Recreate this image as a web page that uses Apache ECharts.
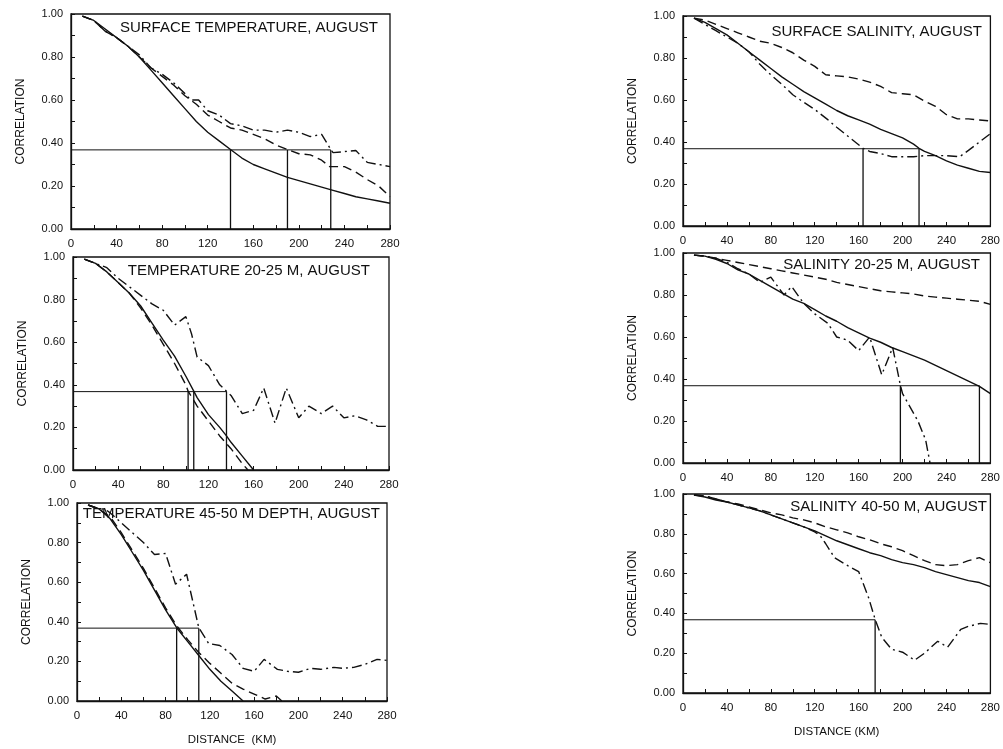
<!DOCTYPE html>
<html>
<head>
<meta charset="utf-8">
<script src="https://cdn.jsdelivr.net/npm/echarts@6/dist/echarts.min.js"></script>
<style>
  html, body { margin: 0; padding: 0; background: #fff; }
  #main { width: 1003px; height: 749px; }
</style>
</head>
<body>
<div id="main"></div>
<script>
// e-folding level used for the reference lines
var EFOLD = 0.368;

// panel titles
var titles = [
    'SURFACE TEMPERATURE, AUGUST',
    'TEMPERATURE 20-25 M, AUGUST',
    'TEMPERATURE 45-50 M DEPTH, AUGUST',
    'SURFACE SALINITY, AUGUST',
    'SALINITY 20-25 M, AUGUST',
    'SALINITY 40-50 M, AUGUST'
];

var xTicks = [0, 40, 80, 120, 160, 200, 240, 280];
var yTicks = [0, 0.2, 0.4, 0.6, 0.8, 1.0];

// [distance km, correlation]
var tempSurfSolid = [[10,.99],[20,.97],[30,.93],[40,.89],[50,.85],[60,.80],[70,.74],[80,.68],[90,.62],[100,.56],[110,.50],[120,.45],[130,.41],[140,.37],[150,.33],[160,.30],[170,.28],[180,.26],[190,.24],[200,.225],[210,.21],[220,.195],[230,.18],[240,.165],[250,.15],[260,.14],[270,.13],[280,.12]];
var tempSurfDash = [[10,.99],[20,.97],[30,.92],[40,.89],[50,.85],[60,.80],[70,.75],[80,.71],[90,.67],[100,.62],[110,.58],[120,.53],[130,.50],[140,.47],[150,.46],[160,.44],[170,.42],[180,.39],[190,.37],[200,.35],[210,.345],[220,.32],[227,.29],[240,.29],[250,.265],[260,.23],[270,.20],[280,.15]];
var tempSurfDashDot = [[10,.99],[20,.97],[30,.92],[40,.89],[50,.85],[60,.81],[70,.75],[80,.72],[90,.68],[100,.63],[105,.60],[112,.60],[120,.55],[130,.53],[140,.49],[150,.48],[160,.46],[170,.46],[180,.45],[190,.46],[200,.45],[210,.43],[220,.44],[228,.37],[230,.355],[240,.36],[250,.365],[260,.31],[270,.30],[280,.29]];
var tempSurfCross = [140, 190, 228];

var temp25Solid = [[10,.99],[20,.97],[30,.93],[40,.88],[50,.83],[60,.77],[70,.69],[80,.61],[90,.535],[100,.44],[107,.37],[110,.34],[120,.26],[130,.20],[136,.16],[140,.13],[150,.065],[160,0]];
var temp25Dash = [[10,.99],[20,.97],[30,.93],[40,.88],[50,.83],[60,.76],[70,.68],[80,.59],[90,.50],[100,.40],[102,.37],[110,.30],[120,.23],[130,.16],[140,.10],[150,.03],[155,0]];
var temp25DashDot = [[10,.99],[20,.97],[30,.95],[40,.90],[50,.86],[60,.82],[70,.78],[80,.75],[90,.68],[100,.72],[105,.64],[110,.53],[120,.49],[130,.40],[136,.37],[140,.35],[150,.265],[160,.28],[169,.385],[179,.22],[189,.385],[200,.245],[209,.30],[220,.265],[230,.30],[240,.245],[250,.255],[260,.235],[270,.205],[280,.205]];
var temp25Cross = [102, 107, 136];

var temp50Solid = [[10,.99],[20,.97],[30,.92],[40,.84],[50,.75],[60,.66],[70,.56],[80,.46],[90,.37],[100,.30],[110,.23],[120,.16],[130,.10],[140,.05],[150,0]];
var temp50Dash = [[10,.99],[20,.97],[30,.93],[40,.85],[50,.76],[60,.67],[70,.57],[80,.47],[90,.38],[100,.31],[110,.245],[120,.19],[130,.14],[140,.09],[150,.06],[160,.035],[170,.01],[180,.025],[185,0]];
var temp50DashDot = [[10,.99],[20,.97],[25,.97],[30,.95],[40,.90],[50,.85],[60,.80],[70,.74],[80,.745],[89,.59],[99,.64],[110,.37],[119,.29],[129,.28],[140,.235],[150,.165],[160,.15],[169,.21],[181,.16],[190,.15],[200,.145],[211,.165],[220,.16],[232,.17],[240,.165],[250,.17],[260,.185],[271,.21],[280,.205]];
var temp50Cross = [90, 110];

var salSurfSolid = [[10,.99],[20,.97],[30,.94],[40,.91],[50,.87],[60,.83],[70,.79],[80,.75],[90,.71],[100,.675],[110,.64],[120,.61],[130,.58],[140,.55],[150,.525],[160,.505],[170,.485],[180,.46],[190,.44],[200,.42],[210,.39],[215,.37],[220,.355],[230,.335],[240,.31],[250,.29],[260,.275],[270,.26],[280,.255]];
var salSurfDash = [[10,.99],[20,.98],[30,.96],[40,.94],[50,.92],[60,.90],[70,.88],[80,.87],[90,.85],[100,.825],[110,.79],[120,.76],[130,.72],[140,.715],[150,.71],[160,.70],[170,.685],[180,.665],[190,.635],[200,.63],[210,.625],[220,.595],[230,.57],[240,.53],[250,.51],[260,.51],[270,.505],[280,.50]];
var salSurfDashDot = [[10,.99],[20,.96],[30,.93],[40,.90],[50,.87],[60,.83],[70,.77],[80,.72],[90,.675],[100,.625],[107,.60],[120,.555],[131,.51],[140,.47],[152,.42],[164,.37],[170,.355],[180,.345],[190,.33],[200,.33],[210,.33],[220,.335],[230,.335],[240,.335],[252,.33],[260,.36],[270,.40],[280,.44]];
var salSurfCross = [164, 215];

var sal25Solid = [[10,.99],[20,.985],[30,.97],[40,.95],[50,.92],[60,.90],[70,.87],[80,.84],[90,.81],[100,.78],[110,.76],[120,.73],[130,.70],[140,.675],[150,.645],[160,.62],[170,.595],[180,.575],[190,.55],[200,.53],[210,.51],[220,.49],[230,.465],[240,.44],[250,.415],[260,.39],[270,.365],[280,.33]];
var sal25Dash = [[10,.99],[20,.985],[30,.975],[40,.965],[50,.955],[60,.945],[70,.935],[80,.925],[90,.915],[100,.905],[110,.895],[120,.885],[130,.875],[140,.86],[150,.85],[160,.84],[170,.83],[180,.82],[190,.815],[200,.81],[210,.805],[220,.795],[230,.79],[240,.785],[250,.78],[260,.775],[270,.77],[280,.755]];
var sal25DashDot = [[10,.99],[20,.985],[30,.975],[40,.955],[50,.925],[60,.90],[70,.86],[80,.885],[92,.80],[99,.84],[110,.76],[120,.71],[132,.665],[140,.60],[150,.585],[160,.535],[170,.60],[181,.42],[191,.55],[198,.37],[200,.33],[214,.20],[221,.11],[225,0]];
var sal25Cross = [198, 270];

var sal50Solid = [[10,.995],[20,.985],[30,.97],[40,.96],[50,.945],[60,.93],[70,.915],[80,.895],[90,.875],[100,.855],[110,.835],[120,.815],[130,.79],[140,.765],[150,.745],[160,.725],[170,.705],[180,.69],[190,.67],[200,.655],[210,.645],[220,.63],[230,.61],[240,.595],[250,.58],[260,.565],[270,.555],[280,.535]];
var sal50Dash = [[10,.995],[20,.99],[30,.975],[40,.96],[50,.95],[60,.935],[70,.92],[80,.905],[90,.895],[100,.88],[110,.87],[120,.855],[130,.835],[140,.82],[150,.805],[160,.785],[170,.77],[180,.75],[190,.735],[200,.715],[210,.69],[220,.665],[230,.645],[240,.64],[250,.645],[260,.665],[270,.68],[280,.655]];
var sal50DashDot = [[10,.995],[20,.99],[30,.975],[40,.96],[50,.945],[60,.93],[70,.915],[80,.895],[90,.875],[100,.855],[110,.835],[120,.81],[125,.79],[130,.75],[138,.68],[150,.64],[160,.61],[169,.48],[175,.37],[181,.28],[190,.22],[200,.205],[211,.165],[220,.20],[232,.26],[241,.23],[253,.32],[260,.335],[271,.35],[280,.345]];
var sal50Cross = [175];

var panelSeries = [
    [tempSurfSolid, tempSurfDash, tempSurfDashDot, tempSurfCross],
    [temp25Solid, temp25Dash, temp25DashDot, temp25Cross],
    [temp50Solid, temp50Dash, temp50DashDot, temp50Cross],
    [salSurfSolid, salSurfDash, salSurfDashDot, salSurfCross],
    [sal25Solid, sal25Dash, sal25DashDot, sal25Cross],
    [sal50Solid, sal50Dash, sal50DashDot, sal50Cross]
];

var boxes = [
    { left: 71, top: 14, width: 319, height: 215 },
    { left: 73, top: 257, width: 316, height: 213 },
    { left: 77, top: 503, width: 310, height: 198 },
    { left: 683, top: 16, width: 308, height: 210 },
    { left: 683, top: 253, width: 311, height: 210 },
    { left: 683, top: 494, width: 310, height: 199 }
];
var titlePos = [
    { right: 625, top: 20 }, { right: 633, top: 263 }, { right: 623, top: 506 },
    { right: 21, top: 24 }, { right: 23, top: 257 }, { right: 16, top: 499 }
];
var xNames = ['', '', 'DISTANCE  (KM)', '', '', 'DISTANCE (KM)'];

var INK = '#111';
var FONT = 'Liberation Sans, Arial, sans-serif';
var styles = [
    { type: 'solid', width: 1.4 },
    { type: [9, 5], width: 1.4 },
    { type: [10, 4, 2, 4], width: 1.4 }
];

var grids = [], xAxes = [], yAxes = [], series = [], titleOpts = [];

boxes.forEach(function (b, i) {
    grids.push({
        left: b.left, top: b.top, width: b.width, height: b.height,
        show: true, borderColor: INK, borderWidth: 1.3, backgroundColor: '#fff'
    });
    titleOpts.push({
        text: titles[i], right: titlePos[i].right, top: titlePos[i].top, padding: 0,
        textStyle: { fontFamily: FONT, fontSize: 15, fontWeight: 'normal', color: INK }
    });
    xAxes.push({
        gridIndex: i, type: 'value', min: xTicks[0], max: xTicks[xTicks.length - 1],
        interval: xTicks[1] - xTicks[0],
        name: xNames[i], nameLocation: 'middle', nameGap: 33,
        nameTextStyle: { fontFamily: FONT, fontSize: 11.5, color: INK },
        axisLine: { lineStyle: { color: INK, width: 1.3 } },
        axisTick: { inside: true, length: 4, lineStyle: { color: INK } },
        minorTick: { show: true, splitNumber: 2, length: 4, lineStyle: { color: INK } },
        splitLine: { show: false },
        axisLabel: { fontFamily: FONT, fontSize: 11.5, color: INK, margin: 9 }
    });
    yAxes.push({
        gridIndex: i, type: 'value', min: yTicks[0], max: yTicks[yTicks.length - 1],
        interval: yTicks[1] - yTicks[0],
        name: 'CORRELATION', nameLocation: 'middle', nameGap: 44,
        nameTextStyle: { fontFamily: FONT, fontSize: 12, color: INK },
        axisLine: { lineStyle: { color: INK, width: 1.3 } },
        axisTick: { inside: true, length: 4, lineStyle: { color: INK } },
        minorTick: { show: true, splitNumber: 2, length: 4, lineStyle: { color: INK } },
        splitLine: { show: false },
        axisLabel: {
            fontFamily: FONT, fontSize: 11, color: INK, margin: 8,
            formatter: function (v) { return v.toFixed(2); }
        }
    });

    var set = panelSeries[i];
    for (var k = 0; k < 3; k++) {
        series.push({
            type: 'line', xAxisIndex: i, yAxisIndex: i, data: set[k],
            showSymbol: false, smooth: false, silent: true,
            lineStyle: { color: INK, type: styles[k].type, width: styles[k].width }
        });
    }
    // e-folding reference lines
    var cross = set[3];
    var maxX = Math.max.apply(null, cross);
    series.push({
        type: 'line', xAxisIndex: i, yAxisIndex: i, showSymbol: false, silent: true,
        data: [[0, EFOLD], [maxX, EFOLD]],
        lineStyle: { color: INK, width: 1 }
    });
    cross.forEach(function (c) {
        series.push({
            type: 'line', xAxisIndex: i, yAxisIndex: i, showSymbol: false, silent: true,
            data: [[c, 0], [c, EFOLD]],
            lineStyle: { color: INK, width: 1.3 }
        });
    });
});

var chart = echarts.init(document.getElementById('main'));
chart.setOption({
    backgroundColor: '#fff',
    animation: false,
    title: titleOpts,
    grid: grids,
    xAxis: xAxes,
    yAxis: yAxes,
    series: series
});
</script>
</body>
</html>
